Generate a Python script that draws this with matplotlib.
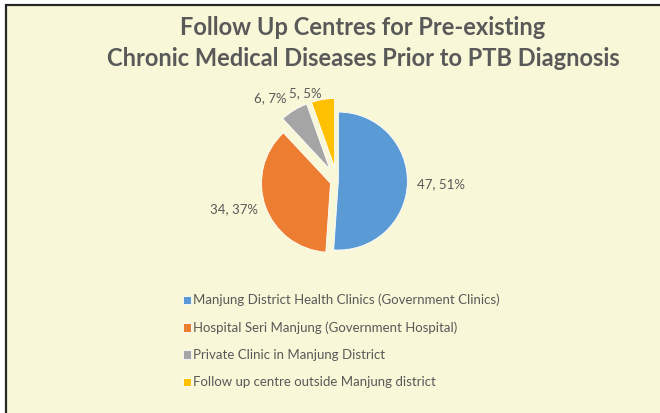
import matplotlib as mpl
mpl.use('Agg')
import matplotlib.pyplot as plt
from matplotlib.patches import Rectangle
import numpy as np

plt.rcParams['font.family'] = ['Lato', 'DejaVu Sans']

title = "Follow Up Centres for Pre-existing\nChronic Medical Diseases Prior to PTB Diagnosis"
categories = ["Manjung District Health Clinics (Government Clinics)",
              "Hospital Seri Manjung (Government Hospital)",
              "Private Clinic in Manjung District",
              "Follow up centre outside Manjung district"]
counts = [47, 34, 6, 5]
colors = ["#5B9BD5", "#ED7D31", "#A5A5A5", "#FFC000"]
explode = [0.02, 0.1, 0.2, 0.2]
label_dist = [1.16, 1.22, 1.4, 1.29]

W, H = 660, 413
bg = "#F8F7D8"
fig = plt.figure(figsize=(W / 100, H / 100), dpi=100, facecolor="white")

# framed background (only top and left edges visible)
fig.add_artist(Rectangle((6 / W, -0.05), 1.2, (H - 5) / H + 0.05,
                         transform=fig.transFigure, facecolor=bg,
                         edgecolor="#262626", lw=1.6, zorder=0))

fig.text(363 / W, 1 - 43 / H, title, ha="center", va="center",
         fontsize=17, fontweight="bold", color="#595959", linespacing=1.45)

# pie axes: center (337, 181) px, radius 69 px
r_px = 69
half = 100
ax = fig.add_axes([(337 - half) / W, (H - 181 - half) / H, 2 * half / W, 2 * half / H])

wedges, _ = ax.pie(counts, colors=colors, explode=explode, startangle=90,
                   counterclock=False, radius=1,
                   wedgeprops=dict(edgecolor="white", linewidth=0.6))
ax.set_xlim(-half / r_px, half / r_px)
ax.set_ylim(-half / r_px, half / r_px)
ax.axis("off")

total = sum(counts)
for w, c, d in zip(wedges, counts, label_dist):
    ang = np.deg2rad((w.theta1 + w.theta2) / 2)
    x, y = d * np.cos(ang), d * np.sin(ang)
    ax.text(x, y, f"{c}, {round(100 * c / total)}%",
            ha="left" if x > 0 else "right", va="center",
            fontsize=9.5, color="#595959")

leg = fig.legend(wedges, categories, loc="upper left",
                 bbox_to_anchor=(171 / W, 1 - 282 / H), frameon=False,
                 fontsize=9.5, labelcolor="#595959", handlelength=0.6,
                 handleheight=0.6, handletextpad=0.2, labelspacing=1.15)

fig.savefig("out.png", dpi=100, facecolor=fig.get_facecolor())
